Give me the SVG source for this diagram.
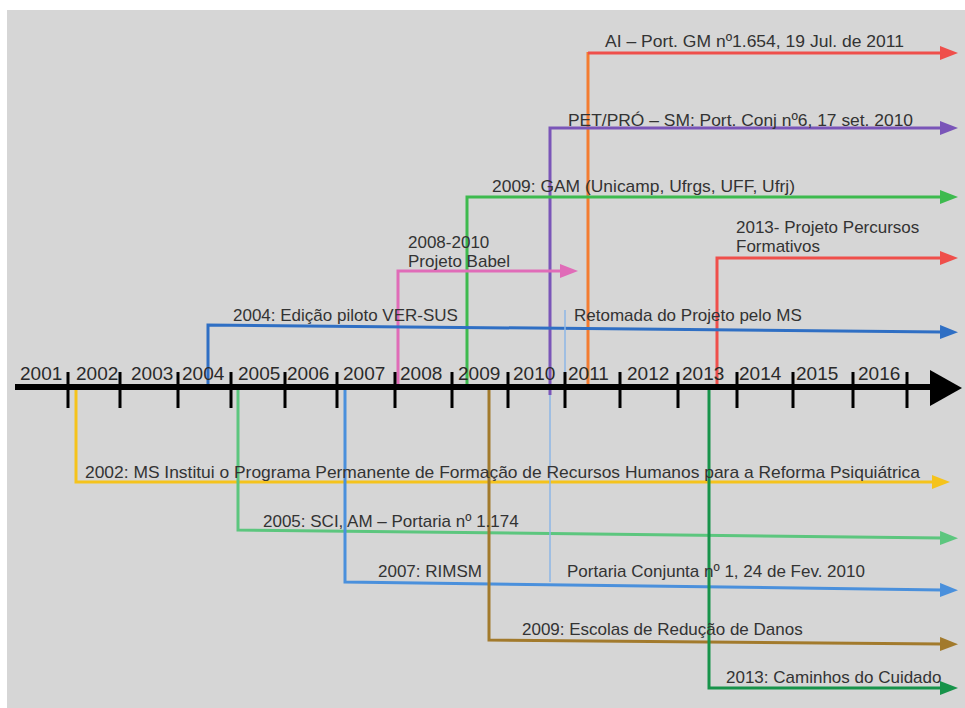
<svg xmlns="http://www.w3.org/2000/svg" width="965" height="708" viewBox="0 0 965 708">
<style>
text{font-family:"Liberation Sans",Arial,sans-serif;fill:#333}
.lbl{font-size:17px}
.yr{font-size:19px;fill:#2a2a2a}
.c{fill:none;stroke-width:3;stroke-linejoin:miter}
.thin{fill:none;stroke-width:1.5;stroke:#8cb6e6}
.tick{stroke:#000;stroke-width:3}
</style>
<defs>
<marker id="m-red" markerUnits="userSpaceOnUse" markerWidth="18" markerHeight="14" refX="2" refY="7" orient="auto"><path d="M0,0 L18,7 L0,14 z" fill="#ef4f4b"/></marker>
<marker id="m-pur" markerUnits="userSpaceOnUse" markerWidth="18" markerHeight="14" refX="2" refY="7" orient="auto"><path d="M0,0 L18,7 L0,14 z" fill="#7a55b8"/></marker>
<marker id="m-grn" markerUnits="userSpaceOnUse" markerWidth="18" markerHeight="14" refX="2" refY="7" orient="auto"><path d="M0,0 L18,7 L0,14 z" fill="#3dba4e"/></marker>
<marker id="m-pnk" markerUnits="userSpaceOnUse" markerWidth="18" markerHeight="14" refX="2" refY="7" orient="auto"><path d="M0,0 L18,7 L0,14 z" fill="#e06cb8"/></marker>
<marker id="m-blu" markerUnits="userSpaceOnUse" markerWidth="18" markerHeight="14" refX="2" refY="7" orient="auto"><path d="M0,0 L18,7 L0,14 z" fill="#2f6fc4"/></marker>
<marker id="m-yel" markerUnits="userSpaceOnUse" markerWidth="18" markerHeight="14" refX="2" refY="7" orient="auto"><path d="M0,0 L18,7 L0,14 z" fill="#f5c31c"/></marker>
<marker id="m-lgr" markerUnits="userSpaceOnUse" markerWidth="18" markerHeight="14" refX="2" refY="7" orient="auto"><path d="M0,0 L18,7 L0,14 z" fill="#5cc67e"/></marker>
<marker id="m-lbl" markerUnits="userSpaceOnUse" markerWidth="18" markerHeight="14" refX="2" refY="7" orient="auto"><path d="M0,0 L18,7 L0,14 z" fill="#4a90dc"/></marker>
<marker id="m-brn" markerUnits="userSpaceOnUse" markerWidth="18" markerHeight="14" refX="2" refY="7" orient="auto"><path d="M0,0 L18,7 L0,14 z" fill="#a27a2c"/></marker>
<marker id="m-dgr" markerUnits="userSpaceOnUse" markerWidth="18" markerHeight="14" refX="2" refY="7" orient="auto"><path d="M0,0 L18,7 L0,14 z" fill="#17934a"/></marker>
</defs>
<rect x="7" y="10" width="958" height="698" fill="#d6d6d6"/>

<g id="connectors">
<line x1="588" y1="387" x2="588" y2="52" stroke="#f47c30" stroke-width="3"/>
<polyline class="c" stroke="#ef4f4b" points="588,53 942,53" marker-end="url(#m-red)"/>
<polyline class="c" stroke="#7a55b8" points="550,395 550,128 942,128" marker-end="url(#m-pur)"/>
<polyline class="c" stroke="#3dba4e" points="467,388 467,197 942,197" marker-end="url(#m-grn)"/>
<polyline class="c" stroke="#ef4f4b" points="717,389 717,258 942,258" marker-end="url(#m-red)"/>
<polyline class="c" stroke="#e06cb8" points="398,387 398,271 562,271" marker-end="url(#m-pnk)"/>
<polyline class="c" stroke="#2f6fc4" points="208,387 208,325 942,332" marker-end="url(#m-blu)"/>
<line class="thin" x1="565" y1="310" x2="565" y2="387"/>
<polyline class="c" stroke="#f5c31c" points="76,390 76,482 934,482" marker-end="url(#m-yel)"/>
<polyline class="c" stroke="#5cc67e" points="238,390 238,530 942,538" marker-end="url(#m-lgr)"/>
<polyline class="c" stroke="#4a90dc" points="345,390 345,582 942,590" marker-end="url(#m-lbl)"/>
<line class="thin" x1="550" y1="395" x2="550" y2="582"/>
<polyline class="c" stroke="#a27a2c" points="489,390 489,640 942,644" marker-end="url(#m-brn)"/>
<polyline class="c" stroke="#17934a" points="709,390 709,688 942,688" marker-end="url(#m-dgr)"/>
</g>

<g id="axis">
<line x1="15" y1="387" x2="934" y2="387" stroke="#000" stroke-width="6"/>
<polygon points="930,370 962,388 930,406" fill="#000"/>
<g class="tick">
<line x1="68" y1="372" x2="68" y2="408"/>
<line x1="120" y1="372" x2="120" y2="408"/>
<line x1="178" y1="372" x2="178" y2="408"/>
<line x1="231" y1="372" x2="231" y2="408"/>
<line x1="285" y1="372" x2="285" y2="408"/>
<line x1="337" y1="372" x2="337" y2="408"/>
<line x1="395" y1="372" x2="395" y2="408"/>
<line x1="452" y1="372" x2="452" y2="408"/>
<line x1="508" y1="372" x2="508" y2="408"/>
<line x1="565" y1="372" x2="565" y2="408"/>
<line x1="620" y1="372" x2="620" y2="408"/>
<line x1="678" y1="372" x2="678" y2="408"/>
<line x1="737" y1="372" x2="737" y2="408"/>
<line x1="793" y1="372" x2="793" y2="408"/>
<line x1="853" y1="372" x2="853" y2="408"/>
<line x1="907" y1="372" x2="907" y2="408"/>
</g>
<text class="yr" x="20" y="380">2001</text>
<text class="yr" x="76" y="380">2002</text>
<text class="yr" x="131" y="380">2003</text>
<text class="yr" x="182" y="380">2004</text>
<text class="yr" x="238" y="380">2005</text>
<text class="yr" x="287" y="380">2006</text>
<text class="yr" x="343" y="380">2007</text>
<text class="yr" x="400" y="380">2008</text>
<text class="yr" x="458" y="380">2009</text>
<text class="yr" x="513" y="380">2010</text>
<text class="yr" x="568" y="380">2011</text>
<text class="yr" x="627" y="380">2012</text>
<text class="yr" x="682" y="380">2013</text>
<text class="yr" x="739" y="380">2014</text>
<text class="yr" x="796" y="380">2015</text>
<text class="yr" x="858" y="380">2016</text>
</g>

<g id="ev-ai"><text class="lbl" x="605" y="47" textLength="299" lengthAdjust="spacingAndGlyphs">AI – Port. GM nº1.654, 19 Jul. de 2011</text></g>
<g id="ev-pet"><text class="lbl" x="568" y="126" textLength="345" lengthAdjust="spacingAndGlyphs">PET/PRÓ – SM: Port. Conj nº6, 17 set. 2010</text></g>
<g id="ev-gam"><text class="lbl" x="492" y="192" textLength="303" lengthAdjust="spacingAndGlyphs">2009: GAM (Unicamp, Ufrgs, UFF, Ufrj)</text></g>
<g id="ev-percursos"><text class="lbl" x="736" y="233">2013- Projeto Percursos</text><text class="lbl" x="736" y="252">Formativos</text></g>
<g id="ev-babel"><text class="lbl" x="408" y="248">2008-2010</text><text class="lbl" x="408" y="267">Projeto Babel</text></g>
<g id="ev-versus"><text class="lbl" x="233" y="321">2004: Edição piloto VER-SUS</text></g>
<g id="ev-retomada"><text class="lbl" x="574" y="321">Retomada do Projeto pelo MS</text></g>
<g id="ev-2002"><text class="lbl" x="85" y="478" textLength="835" lengthAdjust="spacingAndGlyphs">2002: MS Institui o Programa Permanente de Formação de Recursos Humanos para a Reforma Psiquiátrica</text></g>
<g id="ev-2005"><text class="lbl" x="263" y="527">2005: SCI, AM – Portaria nº 1.174</text></g>
<g id="ev-rimsm"><text class="lbl" x="378" y="577">2007: RIMSM</text></g>
<g id="ev-portaria"><text class="lbl" x="567" y="577">Portaria Conjunta nº 1, 24 de Fev. 2010</text></g>
<g id="ev-escolas"><text class="lbl" x="522" y="635">2009: Escolas de Redução de Danos</text></g>
<g id="ev-caminhos"><text class="lbl" x="726" y="683">2013: Caminhos do Cuidado</text></g>
</svg>
